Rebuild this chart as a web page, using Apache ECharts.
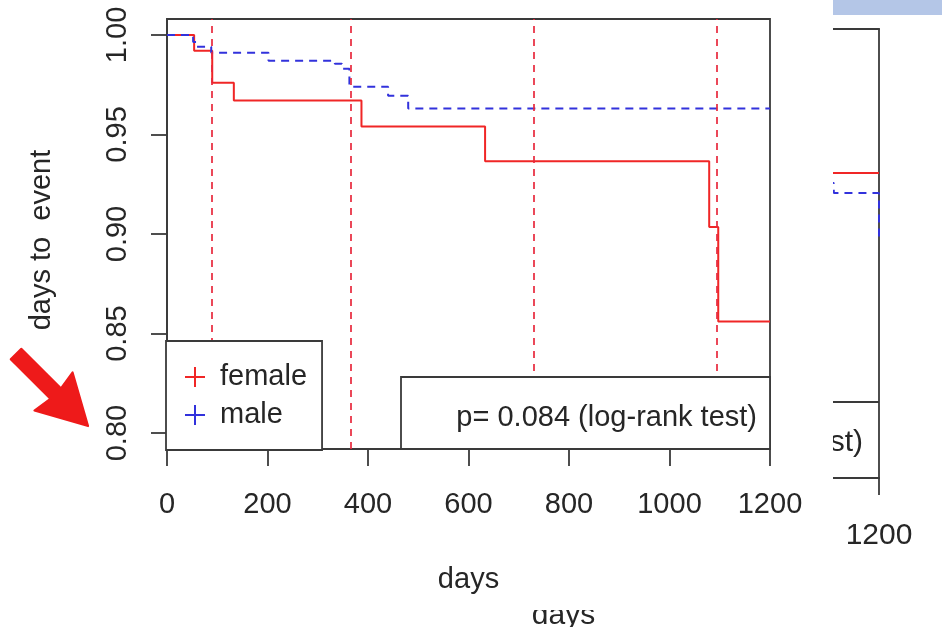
<!DOCTYPE html>
<html><head><meta charset="utf-8">
<script src="https://cdn.jsdelivr.net/npm/echarts@6/dist/echarts.min.js"></script>
<style>html,body{margin:0;padding:0;background:#fff;}#c{width:942px;height:627px;}</style>
</head><body><div id="c"></div>
<script>
// ---- data ----
const xMin = 0, xMax = 1200, xInterval = 200;
const yMin = 0.792, yMax = 1.008;
const yTicks = [0.80, 0.85, 0.90, 0.95, 1.00];
const seriesNames = ['female', 'male'];
const female = [[0,1],[54,0.992],[90,0.976],[133,0.967],[387,0.954],[633,0.9365],[1079,0.9035],[1097,0.856],[1200,0.856]];
const male = [[0,1],[52,0.9965],[58,0.994],[88,0.991],[202,0.987],[334,0.9855],[348,0.983],[363,0.974],[440,0.9695],[480,0.963],[1200,0.963]];
const refDays = [90, 365, 730, 1095];
const pText = 'p= 0.084 (log-rank test)';
const xName = 'days';
const yName = 'days to  event';
// background (partly hidden) second plot
const bgXMin = 1112.5, bgXMax = 1200;
const bgTicks = [1200];
const bgFemale = [[1100,0.9387],[1200,0.9387]];
const bgMale = [[1100,0.9339],[1114,0.9291],[1200,0.9075]];

// ---- styles ----
const FONT = "'Liberation Sans', Arial, sans-serif";
const TXT = '#262626';
const BOX = '#3a3a3a';
const RED = '#f02626';
const BLUE = '#3232dc';
const VRED = '#e8283c';

// arrow annotation geometry (tail point, axial/lateral outline)
const T = [16, 354], u = [Math.SQRT1_2, Math.SQRT1_2], n = [Math.SQRT1_2, -Math.SQRT1_2];
const arrowAL = [[0,7.5],[56,7.5],[53,27],[102,0],[53,-27],[56,-7.5],[0,-7.5]];
const arrowPts = arrowAL.map(([a,l]) => [T[0]+a*u[0]+l*n[0], T[1]+a*u[1]+l*n[1]]);

const chart = echarts.init(document.getElementById('c'), null, {renderer:'canvas'});
const axisLine = {show:true, onZero:false, lineStyle:{color:BOX, width:1.8}};
const plain = v => String(v);
const option = {
  animation: false,
  textStyle: {fontFamily: FONT},
  grid: [
    {left:167, right:172, top:19, bottom:178, show:true, borderColor:BOX, borderWidth:1.8, backgroundColor:'transparent', z:3, outerBoundsMode:'none', containLabel:false},
    {left:833, right:63, top:29, bottom:149, show:false, z:1, outerBoundsMode:'none', containLabel:false}
  ],
  xAxis: [
    {type:'value', gridIndex:0, min:xMin, max:xMax, interval:xInterval, z:3,
     name:xName, nameLocation:'middle', nameGap:116,
     nameTextStyle:{fontSize:29, color:TXT, fontFamily:FONT},
     axisLine: axisLine,
     axisTick:{show:true, inside:false, length:17, lineStyle:{color:BOX, width:1.8}},
     axisLabel:{fontSize:29, color:TXT, margin:41, fontFamily:FONT, showMinLabel:true, showMaxLabel:true, formatter:plain},
     splitLine:{show:false}},
    {type:'value', gridIndex:1, min:bgXMin, max:bgXMax, z:1, position:'bottom',
     axisLine: axisLine,
     axisTick:{show:true, length:17, customValues:bgTicks, lineStyle:{color:BOX, width:1.8}},
     axisLabel:{fontSize:30, color:TXT, margin:43, customValues:bgTicks, fontFamily:FONT, formatter:plain},
     splitLine:{show:false}},
    {type:'value', gridIndex:1, min:bgXMin, max:bgXMax, z:1, position:'top',
     axisLine: axisLine, axisTick:{show:false}, axisLabel:{show:false}, splitLine:{show:false}}
  ],
  yAxis: [
    {type:'value', gridIndex:0, min:yMin, max:yMax, z:3,
     name:yName, nameLocation:'middle', nameGap:111,
     nameTextStyle:{fontSize:29, color:TXT, fontFamily:FONT, padding:[0,12,0,0]},
     axisLine: axisLine,
     axisTick:{show:true, inside:false, length:16, customValues:yTicks, lineStyle:{color:BOX, width:1.8}},
     axisLabel:{fontSize:29, color:TXT, margin:35, rotate:90, customValues:yTicks, fontFamily:FONT,
                formatter: v => v.toFixed(2)},
     splitLine:{show:false}},
    {type:'value', gridIndex:1, min:yMin, max:yMax, z:1, position:'right',
     axisLine: axisLine, axisTick:{show:false}, axisLabel:{show:false}, splitLine:{show:false}}
  ],
  legend: {
    data: seriesNames, orient:'vertical', left:166, top:341,
    padding:[21,15,20,19], itemGap:8, itemWidth:20, itemHeight:20,
    icon:'path://M9,0H11V9H20V11H11V20H9V11H0V9H9Z',
    textStyle:{fontSize:29, color:TXT, lineHeight:30, fontFamily:FONT, padding:[0,0,0,10]},
    backgroundColor:'#fff', borderColor:BOX, borderWidth:1.8, borderRadius:0,
    selectedMode:false, z:6
  },
  series: [
    {name:seriesNames[0], type:'line', xAxisIndex:0, yAxisIndex:0, data:female, step:'end',
     symbol:'none', showSymbol:false, z:4, color:RED,
     lineStyle:{color:RED, width:2, type:'solid'}, itemStyle:{color:RED},
     markLine:{silent:true, symbol:['none','none'], label:{show:false},
       lineStyle:{color:VRED, width:1.7, type:[7,6]},
       data: refDays.map(d => ({xAxis:d}))}},
    {name:seriesNames[1], type:'line', xAxisIndex:0, yAxisIndex:0, data:male, step:'end',
     symbol:'none', showSymbol:false, z:4, color:BLUE,
     lineStyle:{color:BLUE, width:2, type:[8,6]}, itemStyle:{color:BLUE}},
    {name:'bg-female', type:'line', xAxisIndex:1, yAxisIndex:1, data:bgFemale, step:'end',
     symbol:'none', z:1, lineStyle:{color:RED, width:2, type:'solid'}},
    {name:'bg-male', type:'line', xAxisIndex:1, yAxisIndex:1, data:bgMale, step:'end',
     symbol:'none', z:1, lineStyle:{color:BLUE, width:2, type:[8,6]}}
  ],
  graphic: [
    // background plot pieces
    {type:'rect', z:1, shape:{x:833, y:0, width:109, height:15}, style:{fill:'#b4c6e7'}},
    {type:'line', z:1, shape:{x1:600, y1:402, x2:879, y2:402}, style:{stroke:BOX, lineWidth:1.8}},
    {type:'text', z:1, x:863, y:443, style:{text:pText, font:'30px '+FONT, fill:TXT, align:'right', verticalAlign:'middle'}},
    {type:'text', z:1, x:563.5, y:616, style:{text:xName, font:'30px '+FONT, fill:TXT, align:'center', verticalAlign:'middle'}},
    // white front panel of main plot
    {type:'rect', z:2, shape:{x:0, y:0, width:833, height:610}, style:{fill:'#fff'}},
    // p-value box
    {type:'rect', z:7, shape:{x:401, y:377, width:369, height:72}, style:{fill:'#fff', stroke:BOX, lineWidth:1.8}},
    {type:'text', z:7, x:757, y:418, style:{text:pText, font:'29px '+FONT, fill:TXT, align:'right', verticalAlign:'middle'}},
    // red arrow
    {type:'polygon', z:7, shape:{points:arrowPts}, style:{fill:'#ee1a1a', stroke:'#ee1a1a', lineWidth:2, lineJoin:'round'}}
  ]
};
chart.setOption(option);
</script></body></html>
